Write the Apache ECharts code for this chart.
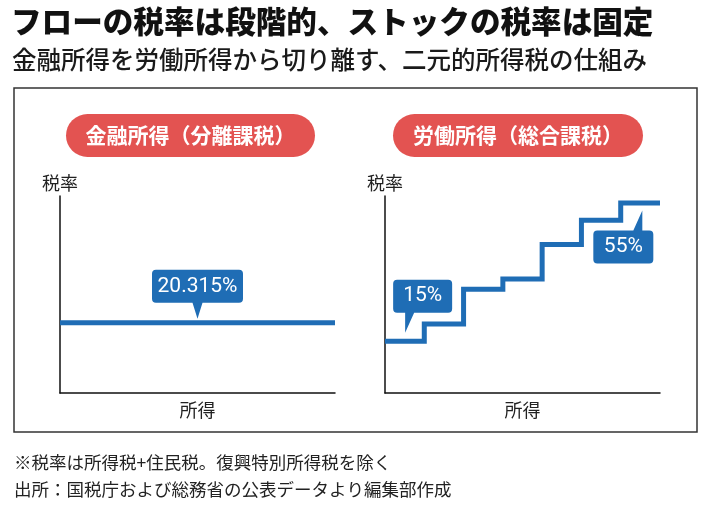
<!DOCTYPE html>
<html>
<head>
<meta charset="utf-8">
<script src="https://cdn.jsdelivr.net/npm/echarts@6/dist/echarts.min.js"></script>
<style>
html,body{margin:0;padding:0;background:#fff;}
#main{width:710px;height:506px;}
</style>
</head>
<body>
<div id="main"></div>
<script>
// 労働所得：所得税+住民税の段階税率（7段階）
var laborSteps = [0, 1, 2, 3, 4, 5, 6, 7];
var laborRates = [15, 20, 30, 33, 43, 50, 55, 55];
// 金融所得：一律
var financeX = [0, 7];
var financeRate = 20.315;
// 吹き出しの位置（所得軸の位置, 表示テキスト）
var calloutFinance = [3.5, '20.315%'];
var calloutLow = [0.5, '15%'];
var calloutHigh = [6.55, '55%'];

var titleText = 'フローの税率は段階的、ストックの税率は固定';
var subText = '金融所得を労働所得から切り離す、二元的所得税の仕組み';
var panelNames = ['金融所得（分離課税）', '労働所得（総合課税）'];
var notes = ['※税率は所得税+住民税。復興特別所得税を除く', '出所：国税庁および総務省の公表データより編集部作成'];

var BLUE = '#1f6db5';
var RED = '#e35351';
var JP = '"Noto Sans CJK JP", "Noto Sans", sans-serif';

// 吹き出しの形（下向き・左下向き・右上向き）
var bubbleDown = 'path://M4 0 H87 Q91 0 91 4 V29 Q91 33 87 33 H50.5 L45.5 49 L40.5 33 H4 Q0 33 0 29 V4 Q0 0 4 0 Z';
var bubbleLeft = 'path://M4 0 H55 Q59 0 59 4 V29 Q59 33 55 33 H21 L12 53 V33 H4 Q0 33 0 29 V4 Q0 0 4 0 Z';
var bubbleUp = 'path://M4 20 H40 L49 0 V20 H56 Q60 20 60 24 V49 Q60 53 56 53 H4 Q0 53 0 49 V24 Q0 20 4 20 Z';

var bubbleLabel = {
    show: true,
    position: 'inside',
    color: '#fff',
    fontSize: 21,
    fontFamily: 'Roboto, sans-serif'
};

function xAx(idx){
    return {
        type: 'value', gridIndex: idx, min: 0, max: 7,
        name: '所得', nameLocation: 'middle', nameGap: 8,
        nameTextStyle: {color: '#222', fontSize: 18, fontFamily: JP, verticalAlign: 'top'},
        axisLine: {show: true, lineStyle: {color: '#111', width: 1.5}},
        axisTick: {show: false}, axisLabel: {show: false}, splitLine: {show: false}
    };
}
function yAx(idx){
    return {
        type: 'value', gridIndex: idx, min: 0, max: 57,
        name: '税率', nameLocation: 'end', nameGap: 4,
        nameTextStyle: {color: '#222', fontSize: 18, fontFamily: JP, align: 'center'},
        axisLine: {show: true, lineStyle: {color: '#111', width: 1.5}},
        axisTick: {show: false}, axisLabel: {show: false}, splitLine: {show: false}
    };
}

var chart = echarts.init(document.getElementById('main'));

chart.setOption({
    animation: false,
    backgroundColor: '#fff',
    grid: [
        {left: 60, top: 196, width: 275, bottom: 113},
        {left: 385, top: 196, width: 275, bottom: 113}
    ],
    xAxis: [xAx(0), xAx(1)],
    yAxis: [yAx(0), yAx(1)],
    graphic: [
        {type: 'text', left: 11, top: 6, style: {text: titleText, fill: '#111', font: '900 30.6px ' + JP}},
        {type: 'text', left: 12, top: 47, style: {text: subText, fill: '#1a1a1a', font: '500 24.5px ' + JP}},
        {type: 'rect', shape: {x: 14, y: 88, width: 683, height: 344}, style: {fill: 'none', stroke: '#333', lineWidth: 1.5}},
        {type: 'rect', shape: {x: 66, y: 114, width: 249, height: 43, r: 21.5}, style: {fill: RED}},
        {type: 'text', x: 190.5, y: 135.5, style: {text: panelNames[0], fill: '#fff', font: 'bold 21px ' + JP, textAlign: 'center', textVerticalAlign: 'middle'}},
        {type: 'rect', shape: {x: 393, y: 114, width: 250, height: 43, r: 21.5}, style: {fill: RED}},
        {type: 'text', x: 518, y: 135.5, style: {text: panelNames[1], fill: '#fff', font: 'bold 21px ' + JP, textAlign: 'center', textVerticalAlign: 'middle'}},
        {type: 'text', x: 14, y: 462, style: {text: notes[0], fill: '#222', font: '17.5px ' + JP, textVerticalAlign: 'middle'}},
        {type: 'text', x: 14, y: 489, style: {text: notes[1], fill: '#222', font: '17.5px ' + JP, textVerticalAlign: 'middle'}}
    ],
    series: [
        {
            type: 'line', xAxisIndex: 0, yAxisIndex: 0,
            data: financeX.map(function(x){ return [x, financeRate]; }),
            symbol: 'none',
            lineStyle: {color: BLUE, width: 5, cap: 'butt'},
            markPoint: {
                silent: true,
                data: [{
                    coord: [calloutFinance[0], financeRate],
                    symbol: bubbleDown, symbolSize: [91, 49], symbolOffset: [0, -28.5],
                    itemStyle: {color: BLUE},
                    label: Object.assign({}, bubbleLabel, {formatter: calloutFinance[1], offset: [0, -8]})
                }]
            }
        },
        {
            type: 'line', xAxisIndex: 1, yAxisIndex: 1,
            data: laborSteps.map(function(x, i){ return [x, laborRates[i]]; }),
            step: 'end',
            symbol: 'none',
            lineStyle: {color: BLUE, width: 5, cap: 'butt', join: 'miter'},
            markPoint: {
                silent: true,
                data: [{
                    coord: [calloutLow[0], laborRates[0]],
                    symbol: bubbleLeft, symbolSize: [59, 53], symbolOffset: [18, -35],
                    itemStyle: {color: BLUE},
                    label: Object.assign({}, bubbleLabel, {formatter: calloutLow[1], offset: [0, -10]})
                }, {
                    coord: [calloutHigh[0], laborRates[laborRates.length - 1]],
                    symbol: bubbleUp, symbolSize: [60, 53], symbolOffset: [-19, 34],
                    itemStyle: {color: BLUE},
                    label: Object.assign({}, bubbleLabel, {formatter: calloutHigh[1], offset: [0, 10]})
                }]
            }
        }
    ]
});
</script>
</body>
</html>
